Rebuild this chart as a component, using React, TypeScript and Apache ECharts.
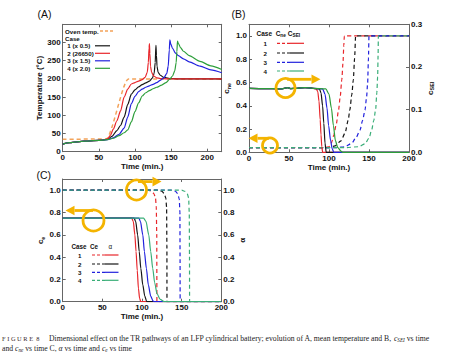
import React, { useEffect, useRef } from "react";
import * as echarts from "echarts";

// ---------- Panel A : mean temperature ----------
const ovenT = [0, 60, 91, 220];
const ovenV = [34, 35, 200, 200];
const a1T = [0, 10, 30, 55, 62, 68, 75, 80, 85, 90, 95, 100, 105, 110, 115, 120, 124, 126.5, 128, 129, 129.7, 130.5, 132, 135, 140, 150, 160, 220];
const a1V = [21, 25, 29, 32, 34, 42, 58, 72, 95, 130, 158, 170, 178, 184, 189, 194, 202, 215, 245, 292, 265, 235, 218, 210, 204, 201, 200, 200];
const a2T = [0, 10, 30, 55, 62, 66, 70, 75, 80, 85, 90, 95, 100, 105, 110, 114, 117, 118.5, 119.5, 120, 120.6, 121.5, 123, 126, 130, 135, 145, 220];
const a2V = [21, 25, 29, 32, 35, 45, 62, 85, 112, 150, 172, 186, 190, 194, 198, 204, 218, 245, 285, 297, 270, 235, 218, 208, 203, 201, 200, 200];
const a3T = [0, 10, 30, 55, 62, 70, 78, 85, 90, 95, 100, 105, 110, 115, 120, 125, 130, 135, 140, 144, 146, 147.5, 148.3, 149.5, 152, 156, 160, 167, 175, 190, 205, 220];
const a3V = [21, 25, 29, 32, 33, 38, 48, 65, 95, 132, 152, 165, 172, 177, 181, 185, 190, 196, 203, 215, 235, 280, 307, 296, 284, 271, 264, 255, 247, 235, 225, 217];
const a4T = [0, 10, 30, 55, 62, 70, 78, 85, 90, 95, 100, 105, 110, 115, 120, 125, 130, 137, 143, 148, 152, 155, 157, 158, 158.8, 160, 163, 167, 175, 190, 205, 220];
const a4V = [21, 25, 29, 32, 33, 37, 44, 52, 60, 82, 110, 134, 153, 162, 168, 173, 177, 183, 190, 199, 208, 222, 245, 275, 304, 298, 286, 276, 264, 248, 236, 226];

// ---------- Panel B : c_ne (solid, left) and c_SEI (dashed, right) ----------
const b1T = [0, 20, 40, 48, 52, 60, 70, 80, 88, 90, 92, 93.5, 95, 96.5, 200];
const b1V = [0.55, 0.548, 0.545, 0.556, 0.548, 0.55, 0.556, 0.55, 0.545, 0.51, 0.4, 0.25, 0.08, 0, 0];
const b2T = [0, 20, 40, 48, 52, 60, 70, 80, 84, 86, 87.5, 89, 90, 91, 92, 200];
const b2V = [0.55, 0.548, 0.545, 0.555, 0.548, 0.55, 0.556, 0.55, 0.545, 0.52, 0.44, 0.28, 0.15, 0.05, 0, 0];
const b3T = [0, 20, 40, 48, 52, 60, 70, 80, 92, 95, 97.5, 99.5, 102, 104, 106, 200];
const b3V = [0.55, 0.548, 0.545, 0.555, 0.548, 0.55, 0.556, 0.55, 0.545, 0.5, 0.38, 0.23, 0.1, 0.03, 0, 0];
const b4T = [0, 20, 40, 48, 52, 60, 70, 80, 96, 100, 103, 105.5, 108, 111, 115, 117, 200];
const b4V = [0.55, 0.548, 0.545, 0.555, 0.548, 0.55, 0.556, 0.55, 0.545, 0.5, 0.38, 0.23, 0.1, 0.04, 0.01, 0, 0];

const s1T = [0, 100, 107.5, 115, 120, 124, 126, 128.5, 130.4, 132, 133.3, 200];
const s1V = [0.011, 0.011, 0.015, 0.027, 0.045, 0.075, 0.099, 0.135, 0.17, 0.22, 0.273, 0.273];
const s2T = [0, 95, 100, 103, 106, 109, 112, 114, 116, 117.5, 118.5, 119.2, 200];
const s2V = [0.011, 0.011, 0.013, 0.022, 0.04, 0.065, 0.1, 0.13, 0.17, 0.21, 0.25, 0.273, 0.273];
const s3T = [0, 110, 120, 128.3, 134, 138.75, 142, 145, 147, 148.3, 149.3, 150, 200];
const s3V = [0.011, 0.011, 0.013, 0.021, 0.035, 0.052, 0.075, 0.099, 0.13, 0.162, 0.22, 0.273, 0.273];
const s4T = [0, 120, 137, 145, 150, 153.3, 156, 158.3, 159.8, 160.8, 161.4, 161.7, 200];
const s4V = [0.011, 0.011, 0.013, 0.02, 0.033, 0.052, 0.075, 0.1, 0.14, 0.177, 0.23, 0.273, 0.273];

// ---------- Panel C : c_e (solid, left) and alpha (dashed, right) ----------
const e1T = [0, 90, 92, 94.5, 96.5, 98.5, 101, 103.5, 106, 200];
const e1V = [0.75, 0.75, 0.72, 0.6, 0.45, 0.3, 0.15, 0.05, 0, 0];
const e2T = [0, 87, 89, 91, 92.5, 94, 95.5, 97, 98.5, 200];
const e2V = [0.75, 0.75, 0.72, 0.6, 0.45, 0.28, 0.12, 0.03, 0, 0];
const e3T = [0, 96, 98, 101, 103, 105.5, 108, 111, 114, 116, 200];
const e3V = [0.75, 0.75, 0.72, 0.6, 0.45, 0.3, 0.15, 0.05, 0.005, 0, 0];
const e4T = [0, 102, 105, 108.5, 111, 113.5, 116, 119, 123, 128, 200];
const e4V = [0.75, 0.75, 0.72, 0.6, 0.45, 0.3, 0.17, 0.07, 0.02, 0, 0];

const al1T = [0, 121, 125, 128, 130, 131, 131.4, 131.5, 200];
const al1V = [1, 1, 0.99, 0.97, 0.93, 0.85, 0.5, 0, 0];
const al2T = [0, 108, 112, 115, 117, 118, 118.6, 118.8, 200];
const al2V = [1, 1, 0.99, 0.97, 0.93, 0.85, 0.6, 0, 0];
const al3T = [0, 138, 142, 145, 147, 147.8, 148, 148.1, 200];
const al3V = [1, 1, 0.99, 0.97, 0.92, 0.8, 0.4, 0, 0];
const al4T = [0, 150, 154, 157, 158.8, 159.6, 159.9, 160, 200];
const al4V = [1, 1, 0.99, 0.97, 0.93, 0.8, 0.4, 0, 0];

const legendA = ["1 (x 0.5)", "2 (26650)", "3 (x 1.5)", "4 (x 2.0)"];
const caseNums = ["1", "2", "3", "4"];

const RED = "#e8262b";
const BLACK = "#151515";
const BLUE = "#2222dd";
const GREEN = "#2c9e3a";
const GREEN2 = "#3aae78";
const ORANGE = "#f3a35a";
const YELLOW = "#f4b400";
const AXIS = "#666";
const FONT = "'Liberation Sans', Arial, sans-serif";
const SERIF = "'Liberation Serif', 'Times New Roman', serif";

const zip = (t: number[], v: number[]) => t.map((x, i) => [x, v[i]]);

function line(name: string, t: number[], v: number[], color: string, xi: number, yi: number, dashed: boolean, width = 1.2) {
  return {
    type: "line",
    name,
    xAxisIndex: xi,
    yAxisIndex: yi,
    data: zip(t, v),
    showSymbol: false,
    symbol: "none",
    smooth: 0.25,
    smoothMonotone: "x",
    lineStyle: { color, width, type: dashed ? [4, 3] : "solid" },
    z: dashed ? 3 : 4,
  };
}

const labelStyle = { fontSize: 8, fontWeight: "bold", color: "#111", fontFamily: FONT, margin: 2 };
const nameStyle = { fontSize: 8, fontWeight: "bold", color: "#111", fontFamily: FONT };

function xAx(grid: number, max: number, withName: boolean, top: boolean) {
  return {
    type: "value",
    gridIndex: grid,
    position: top ? "top" : "bottom",
    min: 0,
    max,
    interval: 50,
    axisLine: { onZero: false, lineStyle: { color: AXIS, width: 1 } },
    axisTick: { show: true, inside: true, length: 3, lineStyle: { color: AXIS } },
    axisLabel: top ? { show: false } : { ...labelStyle, showMaxLabel: max === 200 },
    splitLine: { show: false },
    name: withName ? "Time (min.)" : "",
    nameLocation: "middle",
    nameGap: 10,
    nameTextStyle: nameStyle,
  };
}

function yAx(grid: number, right: boolean, min: number, max: number, interval: number, showLabel: boolean, fmt: ((v: number) => string) | null, name: string, nameGap: number, rich?: any) {
  return {
    type: "value",
    gridIndex: grid,
    position: right ? "right" : "left",
    min,
    max,
    interval,
    axisLine: { onZero: false, lineStyle: { color: AXIS, width: 1 } },
    axisTick: { show: true, inside: true, length: 3, lineStyle: { color: AXIS } },
    axisLabel: showLabel ? { ...labelStyle, showMaxLabel: false, formatter: fmt || undefined, showMinLabel: true } : { show: false },
    splitLine: { show: false },
    name,
    nameLocation: "middle",
    nameRotate: 90,
    nameGap,
    nameTextStyle: { ...nameStyle, rich },
  };
}

const f1 = (v: number) => v.toFixed(1);

function txt(x: number, y: number, text: string, extra: any = {}) {
  return {
    type: "text",
    x,
    y,
    z: 100,
    style: { text, fill: "#111", fontSize: 6.2, fontWeight: "bold", fontFamily: FONT, verticalAlign: "middle", align: "left", ...extra },
  };
}
function seg(x1: number, x2: number, y: number, color: string, dashed: boolean, w = 1.2) {
  return {
    type: "line",
    z: 100,
    shape: { x1, y1: y, x2, y2: y },
    style: { stroke: color, lineWidth: w, lineDash: dashed ? [3, 2] : null },
  };
}
function ring(cx: number, cy: number, r: number) {
  return { type: "circle", z: 110, shape: { cx, cy, r }, style: { fill: "none", stroke: YELLOW, lineWidth: 2.8 } };
}
function arrow(xFrom: number, xTo: number, y: number, dir: number) {
  const baseX = xTo - dir * 9;
  return [
    { type: "line", z: 110, shape: { x1: xFrom, y1: y, x2: baseX, y2: y }, style: { stroke: YELLOW, lineWidth: 2.8 } },
    { type: "polygon", z: 110, shape: { points: [[baseX, y - 4.8], [xTo, y], [baseX, y + 4.8]] }, style: { fill: YELLOW } },
  ];
}

export default function App() {
  const ref = useRef<HTMLDivElement>(null);
  useEffect(() => {
    if (!ref.current) return;
    const chart = echarts.init(ref.current, null, { renderer: "svg" });
    const colorsBC = [RED, BLACK, BLUE, GREEN2];
    const capRich = {
      c: { fontFamily: SERIF, fontSize: 6.4, fill: "#3a2a2a" },
      i: { fontFamily: SERIF, fontSize: 7.7, fontStyle: "italic", fill: "#222" },
      sub: { fontFamily: SERIF, fontSize: 5.2, fontStyle: "italic", fill: "#222", padding: [3, 0, 0, 0] },
    };

    const graphics: any[] = [
      // panel letters
      txt(37.5, 13.5, "(A)", { fontSize: 10.5, fontWeight: "normal" }),
      txt(231.5, 14, "(B)", { fontSize: 10.5, fontWeight: "normal" }),
      txt(36.5, 175, "(C)", { fontSize: 10.5, fontWeight: "normal" }),
      // legend A
      txt(65, 31, "Oven temp."),
      seg(100, 114, 31, ORANGE, true, 1.5),
      txt(65, 38.5, "Case"),
      ...legendA.map((s, i) => txt(67.3, 45.8 + i * 7.5, s)),
      ...[BLACK, RED, BLUE, GREEN].map((c, i) => seg(95, 110, 45.8 + i * 7.5, c, false)),
      // legend B
      {
        type: "text", x: 256.5, y: 33.3, z: 100,
        style: {
          text: "{b|Case  C}{s|ne}{b| C}{s|SEI}",
          verticalAlign: "middle",
          rich: {
            b: { fontSize: 6.5, fontWeight: "bold", fontFamily: FONT, fill: "#111" },
            s: { fontSize: 4.8, fontWeight: "bold", fontFamily: FONT, fill: "#111", padding: [4, 0, 0, 0] },
          },
        },
      },
      ...caseNums.map((s, i) => txt(263.5, [43.3, 53, 62.3, 71][i], s)),
      ...colorsBC.map((c, i) => seg(277, 290, [43.3, 53, 62.3, 71][i], c, true)),
      ...colorsBC.map((c, i) => seg(290, 304, [43.3, 53, 62.3, 71][i], c, false)),
      // legend C
      {
        type: "text", x: 71.5, y: 246.7, z: 100,
        style: {
          text: "{b|Case  Ce}{g|      α}",
          verticalAlign: "middle",
          rich: {
            b: { fontSize: 6.3, fontWeight: "bold", fontFamily: FONT, fill: "#111" },
            g: { fontSize: 6.3, fontFamily: FONT, fill: "#111" },
          },
        },
      },
      ...caseNums.map((s, i) => txt(78, [255, 264, 272.3, 280.3][i], s)),
      ...colorsBC.map((c, i) => seg(92, 105, [255, 264, 272.3, 280.3][i], c, true)),
      ...colorsBC.map((c, i) => seg(105, 118.5, [255, 264, 272.3, 280.3][i], c, false)),
      // yellow annotations
      ring(285.5, 88, 9.5),
      ...arrow(287, 320.5, 79.3, 1),
      ring(270, 145.5, 7.5),
      ...arrow(269, 248.5, 138.3, -1),
      ring(136.5, 190, 10),
      ...arrow(138, 161.5, 181.6, 1),
      ring(93.5, 220.5, 10.5),
      ...arrow(93, 65.5, 210.5, -1),
      // caption
      {
        type: "text", x: 2, y: 338, z: 100,
        style: {
          text: "{c|F I G U R E  8}     Dimensional effect on the TR pathways of an LFP cylindrical battery; evolution of A, mean temperature and B, {i|c}{sub|SEI} vs time",
          fontFamily: SERIF, fontSize: 7.7, fill: "#222", verticalAlign: "middle",
          rich: capRich,
        },
      },
      {
        type: "text", x: 2, y: 348.5, z: 100,
        style: {
          text: "and {i|c}{sub|ne} vs time C, {i|α} vs time and {i|c}{sub|e} vs time",
          fontFamily: SERIF, fontSize: 7.7, fill: "#222", verticalAlign: "middle",
          rich: capRich,
        },
      },
    ];

    const subRich = { s: { fontSize: 5.5, fontWeight: "bold", fontFamily: FONT, color: "#111", padding: [4, 0, 0, 0] } };

    chart.setOption({
      animation: false,
      backgroundColor: "#fff",
      grid: [
        { left: 62.7, top: 24.3, width: 159, height: 127.4, containLabel: false },
        { left: 249, top: 24.3, width: 160, height: 128, containLabel: false },
        { left: 62.7, top: 179, width: 158.6, height: 122.7, containLabel: false },
      ],
      xAxis: [
        xAx(0, 220, true, false),
        xAx(0, 220, false, true),
        xAx(1, 200, true, false),
        xAx(1, 200, false, true),
        xAx(2, 200, true, false),
        xAx(2, 200, false, true),
      ],
      yAxis: [
        yAx(0, false, 0, 350, 50, true, null, "Temperature (°C)", 17),
        yAx(0, true, 0, 350, 50, false, null, "", 0),
        yAx(1, false, 0, 1.1, 0.2, true, f1, "c{s|ne}", 5, subRich),
        { ...yAx(1, true, 0, 0.3, 0.1, true, f1, "c{s|SEI}", 1, subRich), axisLabel: { ...labelStyle, formatter: f1 } },
        yAx(2, false, 0, 1.1, 0.2, true, f1, "c{s|e}", 13, subRich),
        yAx(2, true, 0, 1.1, 0.2, true, f1, "α", 12),
      ],
      series: [
        line("oven", ovenT, ovenV, ORANGE, 0, 0, true, 1.5),
        line("A1", a1T, a1V, BLACK, 0, 0, false),
        line("A2", a2T, a2V, RED, 0, 0, false),
        line("A3", a3T, a3V, BLUE, 0, 0, false),
        line("A4", a4T, a4V, GREEN, 0, 0, false),
        line("S1", s2T, s2V, RED, 2, 3, true),
        line("S2", s1T, s1V, BLACK, 2, 3, true),
        line("S3", s3T, s3V, BLUE, 2, 3, true),
        line("S4", s4T, s4V, GREEN2, 2, 3, true),
        line("N1", b2T, b2V, RED, 2, 2, false),
        line("N2", b1T, b1V, BLACK, 2, 2, false),
        line("N3", b3T, b3V, BLUE, 2, 2, false),
        line("N4", b4T, b4V, GREEN, 2, 2, false),
        line("AL1", al2T, al2V, RED, 4, 5, true),
        line("AL2", al1T, al1V, BLACK, 4, 5, true),
        line("AL3", al3T, al3V, BLUE, 4, 5, true),
        line("AL4", al4T, al4V, GREEN2, 4, 5, true),
        line("E1", e2T, e2V, RED, 4, 4, false),
        line("E2", e1T, e1V, BLACK, 4, 4, false),
        line("E3", e3T, e3V, BLUE, 4, 4, false),
        line("E4", e4T, e4V, GREEN2, 4, 4, false),
      ],
      graphic: graphics,
    });
    return () => chart.dispose();
  }, []);
  return <div ref={ref} style={{ position: "absolute", left: 0, top: 0, width: 459, height: 354 }} />;
}
